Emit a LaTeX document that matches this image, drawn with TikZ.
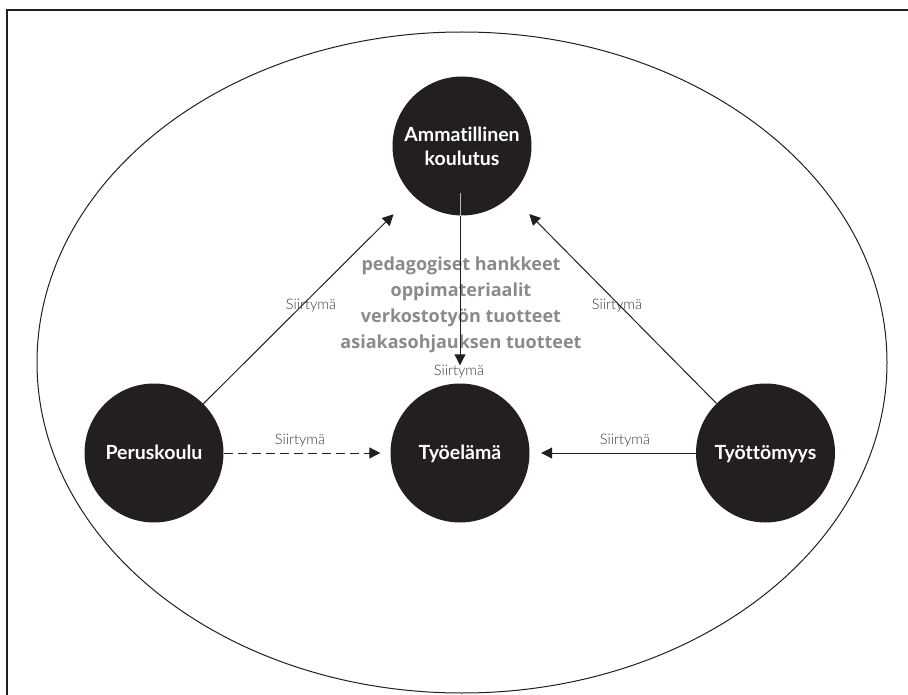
\documentclass[tikz,border=0pt]{standalone}
\usepackage{fontspec}
\setmainfont{Lato}[Ligatures=NoCommon]
\newfontfamily\lightfont{Lato Light}[Ligatures=NoCommon]
\newfontfamily\productfont{Open Sans}
\usetikzlibrary{arrows.meta}
\definecolor{ink}{HTML}{231F20}
\definecolor{note}{HTML}{8A8A8C}
\definecolor{tagink}{HTML}{3A3A3A}
\begin{document}
\begin{tikzpicture}[x=1pt,y=-1pt,
  stage/.style={circle, fill=ink, draw=none, minimum size=139pt, inner sep=0pt,
    text=white, font=\bfseries\fontsize{19.5}{24}\selectfont},
  move/.style={draw=ink, line width=1pt, -{Triangle[length=11pt,width=11pt]}},
  tag/.style={font=\lightfont\fontsize{14.5}{16}\selectfont, text=tagink, inner sep=0pt},
  products/.style={font=\productfont\bfseries\fontsize{18}{25.8}\selectfont, text=note, align=center, inner sep=0pt},
]
% page area and outer frame
\useasboundingbox (0,0) rectangle (908,695);
\clip (0,0) rectangle (908,695);
\draw[ink, line width=2pt] (7,10) rectangle (914,702);

% surrounding ellipse
\draw[ink, line width=1pt] (462,362.5) ellipse [x radius=425, y radius=330.5];

% stages
\node[stage, align=center] (amm) at (462,146) {Ammatillinen\\koulutus};
\node[stage, text height=13pt, text depth=0pt] (pk) at (154,453) {Peruskoulu};
\node[stage, text height=13pt, text depth=0pt] (te) at (460,453) {Työelämä};
\node[stage, text height=13pt, text depth=0pt] (tt) at (765.5,453) {Työttömyys};

% products of vocational education
\node[products] (prod) at (461,305)
  {pedagogiset hankkeet\\oppimateriaalit\\verkostotyön tuotteet\\asiakasohjauksen tuotteet};

% transition labels
\node[tag] (t1) at (311,306) {Siirtymä};
\node[tag] (t2) at (617,306) {Siirtymä};
\node[tag] (t3) at (300,441) {Siirtymä};
\node[tag] (t4) at (625,441) {Siirtymä};
\node[tag] (t5) at (459,372) {Siirtymä};

% transitions
\draw[move, shorten >=27pt] (pk) -- (amm);
\draw[move, shorten >=26pt] (tt) -- (amm);
\draw[move, dashed, dash pattern=on 9pt off 5pt, shorten >=10pt] (pk) -- (te);
\draw[move, shorten >=11.5pt] (tt) -- (te);
\coordinate (ammfoot) at (460,193);
\draw[gray!55, line width=0.8pt] (ammfoot) -- (amm.south -| ammfoot);
\draw[move, shorten >=18pt] (amm.south -| ammfoot) -- (te.north -| ammfoot);
\end{tikzpicture}
\end{document}
